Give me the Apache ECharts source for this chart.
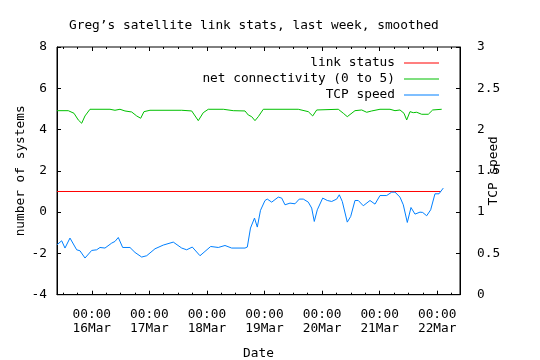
<!DOCTYPE html>
<html><head><meta charset="utf-8">
<script src="https://cdn.jsdelivr.net/npm/echarts@6/dist/echarts.min.js"></script>
<style>html,body{margin:0;padding:0;background:#fff}#c{width:540px;height:360px}</style>
</head><body><div id="c"></div>
<script>
// x values: hours relative to 16 Mar 00:00
const xMin = -14.5, xMax = 153.5;
const dayTicks = [0, 24, 48, 72, 96, 120, 144];
const dayLabels = ['16Mar', '17Mar', '18Mar', '19Mar', '20Mar', '21Mar', '22Mar'];
const minorTicks = [-12, -6, 6, 12, 18, 30, 36, 42, 54, 60, 66, 78, 84, 90, 102, 108, 114, 126, 132, 138, 150];

const linkHours = [-14.5, 145.5];
const linkVals = [1, 1];

const netHours = [-14.5,-9.80,-7.42,-5.63,-4.21,-2.83,-0.75,7.59,9.67,11.76,13.84,16.63,18.72,20.39,21.76,24.26,37.48,41.65,44.40,46.48,48.57,54.82,58.99,63.87,65.24,66.66,68.04,69.41,71.50,74.29,86.09,90.26,92.09,93.76,102.76,104.85,106.51,109.72,112.52,114.60,116.69,120.15,124.32,126.40,128.48,130.15,131.28,132.65,134.03,135.45,137.53,140.28,142.11,145.87];
const netVals = [4.915,4.915,4.790,4.465,4.306,4.659,4.983,4.983,4.935,4.983,4.901,4.852,4.659,4.548,4.867,4.935,4.935,4.901,4.432,4.819,4.983,4.983,4.915,4.901,4.707,4.625,4.432,4.625,4.983,4.983,4.983,4.867,4.659,4.949,4.983,4.790,4.625,4.915,4.949,4.838,4.901,4.983,4.983,4.915,4.949,4.790,4.465,4.867,4.819,4.838,4.741,4.741,4.949,4.983];

const tcpHours = [-14.5,-12.55,-11.17,-9.09,-6.30,-4.92,-2.83,-0.04,2.04,3.42,5.50,8.30,9.67,11.05,12.88,15.92,18.01,20.80,22.89,26.35,29.81,33.98,37.48,39.56,41.90,45.11,47.19,49.57,52.74,55.53,58.32,63.87,64.83,66.16,67.83,69.00,70.33,72.21,73.16,75.00,77.75,79.17,80.54,82.63,84.71,86.50,88.17,90.26,91.67,92.76,94.01,96.26,98.18,100.01,102.10,103.18,104.43,106.51,107.93,109.72,111.10,113.18,115.98,118.06,120.15,122.94,125.02,126.40,128.48,129.86,131.53,133.07,134.74,136.82,137.95,139.61,141.28,143.07,144.74,146.53];
const tcpVals = [0.605,0.653,0.565,0.686,0.544,0.532,0.444,0.536,0.544,0.572,0.565,0.625,0.645,0.693,0.572,0.572,0.512,0.456,0.472,0.556,0.601,0.637,0.565,0.544,0.577,0.472,0.524,0.584,0.572,0.596,0.565,0.565,0.577,0.807,0.928,0.819,1.022,1.141,1.158,1.121,1.182,1.170,1.089,1.109,1.101,1.158,1.158,1.121,1.049,0.887,1.028,1.170,1.141,1.129,1.158,1.210,1.129,0.879,0.947,1.141,1.141,1.077,1.141,1.097,1.201,1.201,1.242,1.242,1.182,1.089,0.875,1.056,0.976,1.000,0.996,0.956,1.028,1.222,1.222,1.291];

const zip = (a, b) => a.map((v, i) => [v, b[i]]);
const FONT = 'DejaVu Sans Mono';
const FS = 12.8;
const txt = { fontFamily: FONT, fontSize: FS, color: '#000' };

function xAx(pos, ticks, len, labels) {
  return {
    type: 'value', position: pos, min: xMin, max: xMax, gridIndex: 0,
    axisLine: { show: labels, onZero: false, lineStyle: { color: '#000', width: 1 } },
    axisTick: { show: true, inside: true, length: len, customValues: ticks, lineStyle: { color: '#000', width: 1 } },
    axisLabel: labels ? {
      show: true, customValues: dayTicks, margin: 13, lineHeight: 14,
      fontFamily: FONT, fontSize: FS, color: '#000',
      formatter: v => '00:00\n' + dayLabels[Math.round(v / 24)]
    } : { show: false },
    splitLine: { show: false },
    name: labels ? 'Date' : '', nameLocation: 'middle', nameGap: 52, nameMoveOverlap: false,
    nameTextStyle: txt
  };
}

const chart = echarts.init(document.getElementById('c'), null, { renderer: 'canvas' });
chart.setOption({
  animation: false,
  backgroundColor: '#fff',
  title: {
    text: 'Greg’s satellite link stats, last week, smoothed',
    left: 64, top: 14,
    textStyle: { fontFamily: FONT, fontSize: FS, fontWeight: 'normal', color: '#000' }
  },
  legend: {
    orient: 'vertical', align: 'right', right: 96, top: 50,
    itemWidth: 35, itemHeight: 1, itemGap: 0, icon: 'rect',
    selectedMode: false,
    textStyle: { fontFamily: FONT, fontSize: FS, color: '#000', lineHeight: 16, padding: [0, 4, 0, 0] },
    data: ['link status', 'net connectivity (0 to 5)', 'TCP speed']
  },
  grid: { left: 57, right: 80, top: 47, bottom: 65.3, outerBoundsMode: 'none', containLabel: false,
    show: true, borderColor: '#000', borderWidth: 1, backgroundColor: 'transparent' },
  xAxis: [
    xAx('bottom', dayTicks, 4, true),
    xAx('bottom', minorTicks, 2, false),
    xAx('top', dayTicks, 4, false),
    xAx('top', minorTicks, 2, false)
  ],
  yAxis: [
    {
      type: 'value', position: 'left', min: -4, max: 8, interval: 2,
      axisLine: { show: true, onZero: false, lineStyle: { color: '#000' } },
      axisTick: { show: true, inside: true, length: 4, lineStyle: { color: '#000' } },
      axisLabel: { margin: 10, fontFamily: FONT, fontSize: FS, color: '#000' },
      splitLine: { show: false },
      name: 'number of systems', nameLocation: 'middle', nameRotate: 90, nameGap: 30, nameMoveOverlap: false,
      nameTextStyle: txt
    },
    {
      type: 'value', position: 'right', min: 0, max: 3, interval: 0.5,
      axisLine: { show: true, onZero: false, lineStyle: { color: '#000' } },
      axisTick: { show: true, inside: true, length: 4, lineStyle: { color: '#000' } },
      axisLabel: { margin: 17, fontFamily: FONT, fontSize: FS, color: '#000' },
      splitLine: { show: false },
      name: 'TCP speed', nameLocation: 'middle', nameRotate: 90, nameGap: 27, nameMoveOverlap: false,
      nameTextStyle: txt
    }
  ],
  series: [
    { name: 'link status', type: 'line', xAxisIndex: 0, yAxisIndex: 0, data: zip(linkHours, linkVals),
      showSymbol: false, symbol: 'none', color: '#ff0000', lineStyle: { width: 1, color: '#ff0000' } },
    { name: 'net connectivity (0 to 5)', type: 'line', xAxisIndex: 0, yAxisIndex: 0, data: zip(netHours, netVals),
      showSymbol: false, symbol: 'none', color: '#00c000', lineStyle: { width: 1, color: '#00c000' } },
    { name: 'TCP speed', type: 'line', xAxisIndex: 0, yAxisIndex: 1, data: zip(tcpHours, tcpVals),
      showSymbol: false, symbol: 'none', color: '#0080ff', lineStyle: { width: 1, color: '#0080ff' } }
  ]
});
</script></body></html>
